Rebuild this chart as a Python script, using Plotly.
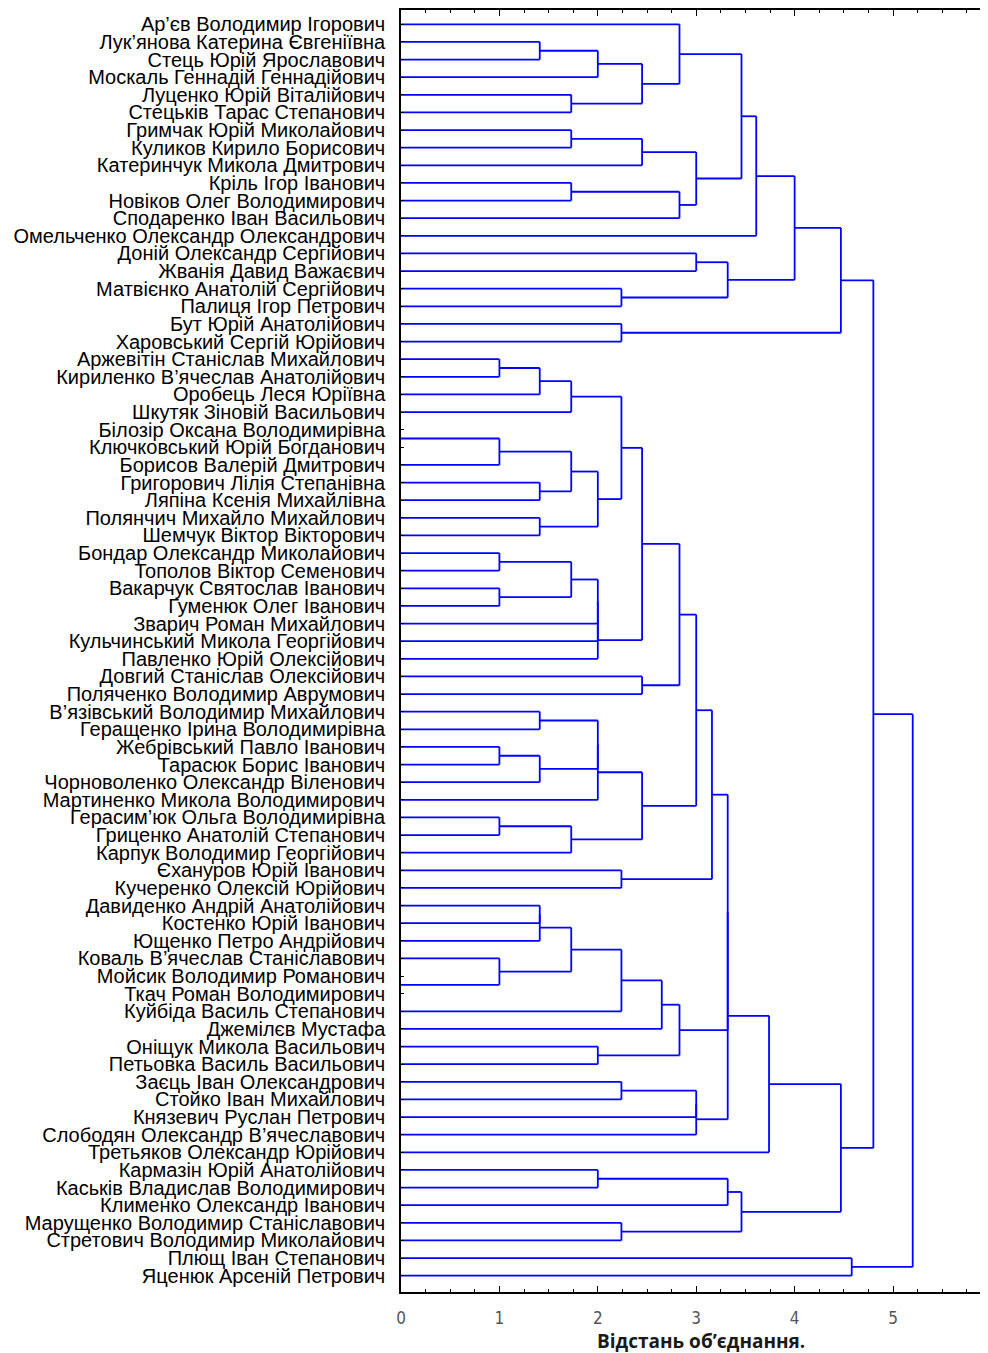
import plotly.graph_objects as go

# ---------------- data ----------------
names = [
    "Ар’єв Володимир Ігорович", "Лук’янова Катерина Євгеніївна", "Стець Юрій Ярославович",
    "Москаль Геннадій Геннадійович", "Луценко Юрій Віталійович", "Стецьків Тарас Степанович",
    "Гримчак Юрій Миколайович", "Куликов Кирило Борисович", "Катеринчук Микола Дмитрович",
    "Кріль Ігор Іванович", "Новіков Олег Володимирович", "Сподаренко Іван Васильович",
    "Омельченко Олександр Олександрович", "Доній Олександр Сергійович", "Жванія Давид Важаєвич",
    "Матвієнко Анатолій Сергійович", "Палиця Ігор Петрович", "Бут Юрій Анатолійович",
    "Харовський Сергій Юрійович", "Аржевітін Станіслав Михайлович", "Кириленко В’ячеслав Анатолійович",
    "Оробець Леся Юріївна", "Шкутяк Зіновій Васильович", "Білозір Оксана Володимирівна",
    "Ключковський Юрій Богданович", "Борисов Валерій Дмитрович", "Григорович Лілія Степанівна",
    "Ляпіна Ксенія Михайлівна", "Полянчич Михайло Михайлович", "Шемчук Віктор Вікторович",
    "Бондар Олександр Миколайович", "Тополов Віктор Семенович", "Вакарчук Святослав Іванович",
    "Гуменюк Олег Іванович", "Зварич Роман Михайлович", "Кульчинський Микола Георгійович",
    "Павленко Юрій Олексійович", "Довгий Станіслав Олексійович", "Поляченко Володимир Аврумович",
    "В’язівський Володимир Михайлович", "Геращенко Ірина Володимирівна", "Жебрівський Павло Іванович",
    "Тарасюк Борис Іванович", "Чорноволенко Олександр Віленович", "Мартиненко Микола Володимирович",
    "Герасим’юк Ольга Володимирівна", "Гриценко Анатолій Степанович", "Карпук Володимир Георгійович",
    "Єхануров Юрій Іванович", "Кучеренко Олексій Юрійович", "Давиденко Андрій Анатолійович",
    "Костенко Юрій Іванович", "Ющенко Петро Андрійович", "Коваль В’ячеслав Станіславович",
    "Мойсик Володимир Романович", "Ткач Роман Володимирович", "Куйбіда Василь Степанович",
    "Джемілєв Мустафа", "Оніщук Микола Васильович", "Петьовка Василь Васильович",
    "Заєць Іван Олександрович", "Стойко Іван Михайлович", "Князевич Руслан Петрович",
    "Слободян Олександр В’ячеславович", "Третьяков Олександр Юрійович", "Кармазін Юрій Анатолійович",
    "Каськів Владислав Володимирович", "Клименко Олександр Іванович", "Марущенко Володимир Станіславович",
    "Стретович Володимир Миколайович", "Плющ Іван Степанович", "Яценюк Арсеній Петрович",
]

# linkage: ids 0..71 are leaves, id 72+k is the cluster made by merge k
merge_left = [1, 72, 4, 73, 0, 6, 77, 9, 79, 78, 76, 82, 13, 15, 84, 83, 17, 87,
              19, 90, 91, 23, 93, 26, 94, 28, 96, 92, 30, 32, 100, 102, 103, 104, 99, 37, 106,
              39, 41, 110, 109, 112, 45, 114, 113, 108, 48, 117,
              50, 120, 54, 53, 121, 124, 125, 58, 126, 119,
              60, 130, 131, 129, 133,
              65, 135, 68, 136, 134, 89, 70, 140]
merge_right = [2, 3, 5, 74, 75, 7, 8, 10, 11, 80, 81, 12, 14, 16, 85, 86, 18, 88,
               20, 21, 22, 24, 25, 27, 95, 29, 97, 98, 31, 33, 101, 34, 35, 36, 105, 38, 107,
               40, 42, 43, 111, 44, 46, 47, 115, 116, 49, 118,
               51, 52, 55, 122, 123, 56, 57, 59, 127, 128,
               61, 62, 63, 132, 64,
               66, 67, 69, 137, 138, 139, 71, 141]
merge_height = [1.41, 2.0, 1.73, 2.45, 2.83, 1.73, 2.45, 1.73, 2.83, 3.0, 3.46, 3.61, 3.0, 2.24, 3.32, 4.0, 2.24, 4.47,
                1.0, 1.41, 1.73, 0.0, 1.0, 1.41, 1.73, 1.41, 2.0, 2.24, 1.0, 1.0, 1.73, 2.0, 2.0, 2.0, 2.45, 2.45, 2.83,
                1.41, 1.0, 1.41, 2.0, 2.0, 1.0, 1.73, 2.45, 3.0, 2.24, 3.16,
                1.41, 1.41, 0.0, 1.0, 1.73, 2.24, 2.65, 2.0, 2.83, 3.32,
                2.24, 3.0, 3.0, 3.32, 3.74,
                2.0, 3.32, 2.24, 3.46, 4.47, 4.8, 4.58, 5.2]

x_ticks = [0, 1, 2, 3, 4, 5]
x_title = "Відстань об’єднання."

# ---------------- build dendrogram segments ----------------
n = len(names)
pos = {i: i + 1 for i in range(n)}      # leaf row positions
hgt = {i: 0.0 for i in range(n)}
xs, ys = [], []
for k, (a, b, h) in enumerate(zip(merge_left, merge_right, merge_height)):
    for c in (a, b):
        if h > hgt[c]:
            xs += [hgt[c], h, None]
            ys += [pos[c], pos[c], None]
    if h > 0:
        xs += [h, h, None]
        ys += [pos[a], pos[b], None]
    cid = n + k
    pos[cid] = (pos[a] + pos[b]) / 2
    hgt[cid] = h

fig = go.Figure()
fig.add_trace(go.Scatter(x=xs, y=ys, mode="lines",
                         line=dict(color="#0000ff", width=1.8),
                         hoverinfo="skip", showlegend=False))

# the page body has an 8px margin, so the figure is sized to fit the window
fig.update_layout(
    width=980, height=1345,
    margin=dict(l=393, r=0, t=2, b=61),
    paper_bgcolor="white", plot_bgcolor="white",
    xaxis=dict(
        range=[0, 5.965], showgrid=False, zeroline=False, automargin=False,
        tickvals=x_ticks, ticktext=[str(v) for v in x_ticks],
        ticks="inside", ticklen=6, tickwidth=1, tickcolor="black",
        minor=dict(dtick=0.25, ticks="inside", ticklen=3, tickcolor="black", showgrid=False),
        showline=True, linecolor="black", linewidth=2, mirror="allticks",
        tickfont=dict(family="Liberation Sans Narrow, DejaVu Sans Condensed, Arial", size=17, color="#555555"),
        ticklabelstandoff=10,
    ),
    yaxis=dict(
        range=[72.925, 0.189], showgrid=False, zeroline=False, automargin=False,
        tickvals=list(range(1, n + 1)), ticktext=names,
        ticks="inside", ticklen=3, tickcolor="black",
        showline=True, linecolor="black", linewidth=1.5, mirror=False,
        tickfont=dict(family="Liberation Sans, Arial", size=20, color="black"),
        ticklabelstandoff=10,
    ),
    annotations=[dict(
        text="<b>" + x_title + "</b>", xref="paper", yref="paper",
        x=0.511, y=0, xanchor="center", yanchor="middle", yshift=-49,
        showarrow=False, font=dict(family="Open Sans, Arial", size=19, color="#1a1a1a"),
    )],
)

fig.write_html("out.html")
